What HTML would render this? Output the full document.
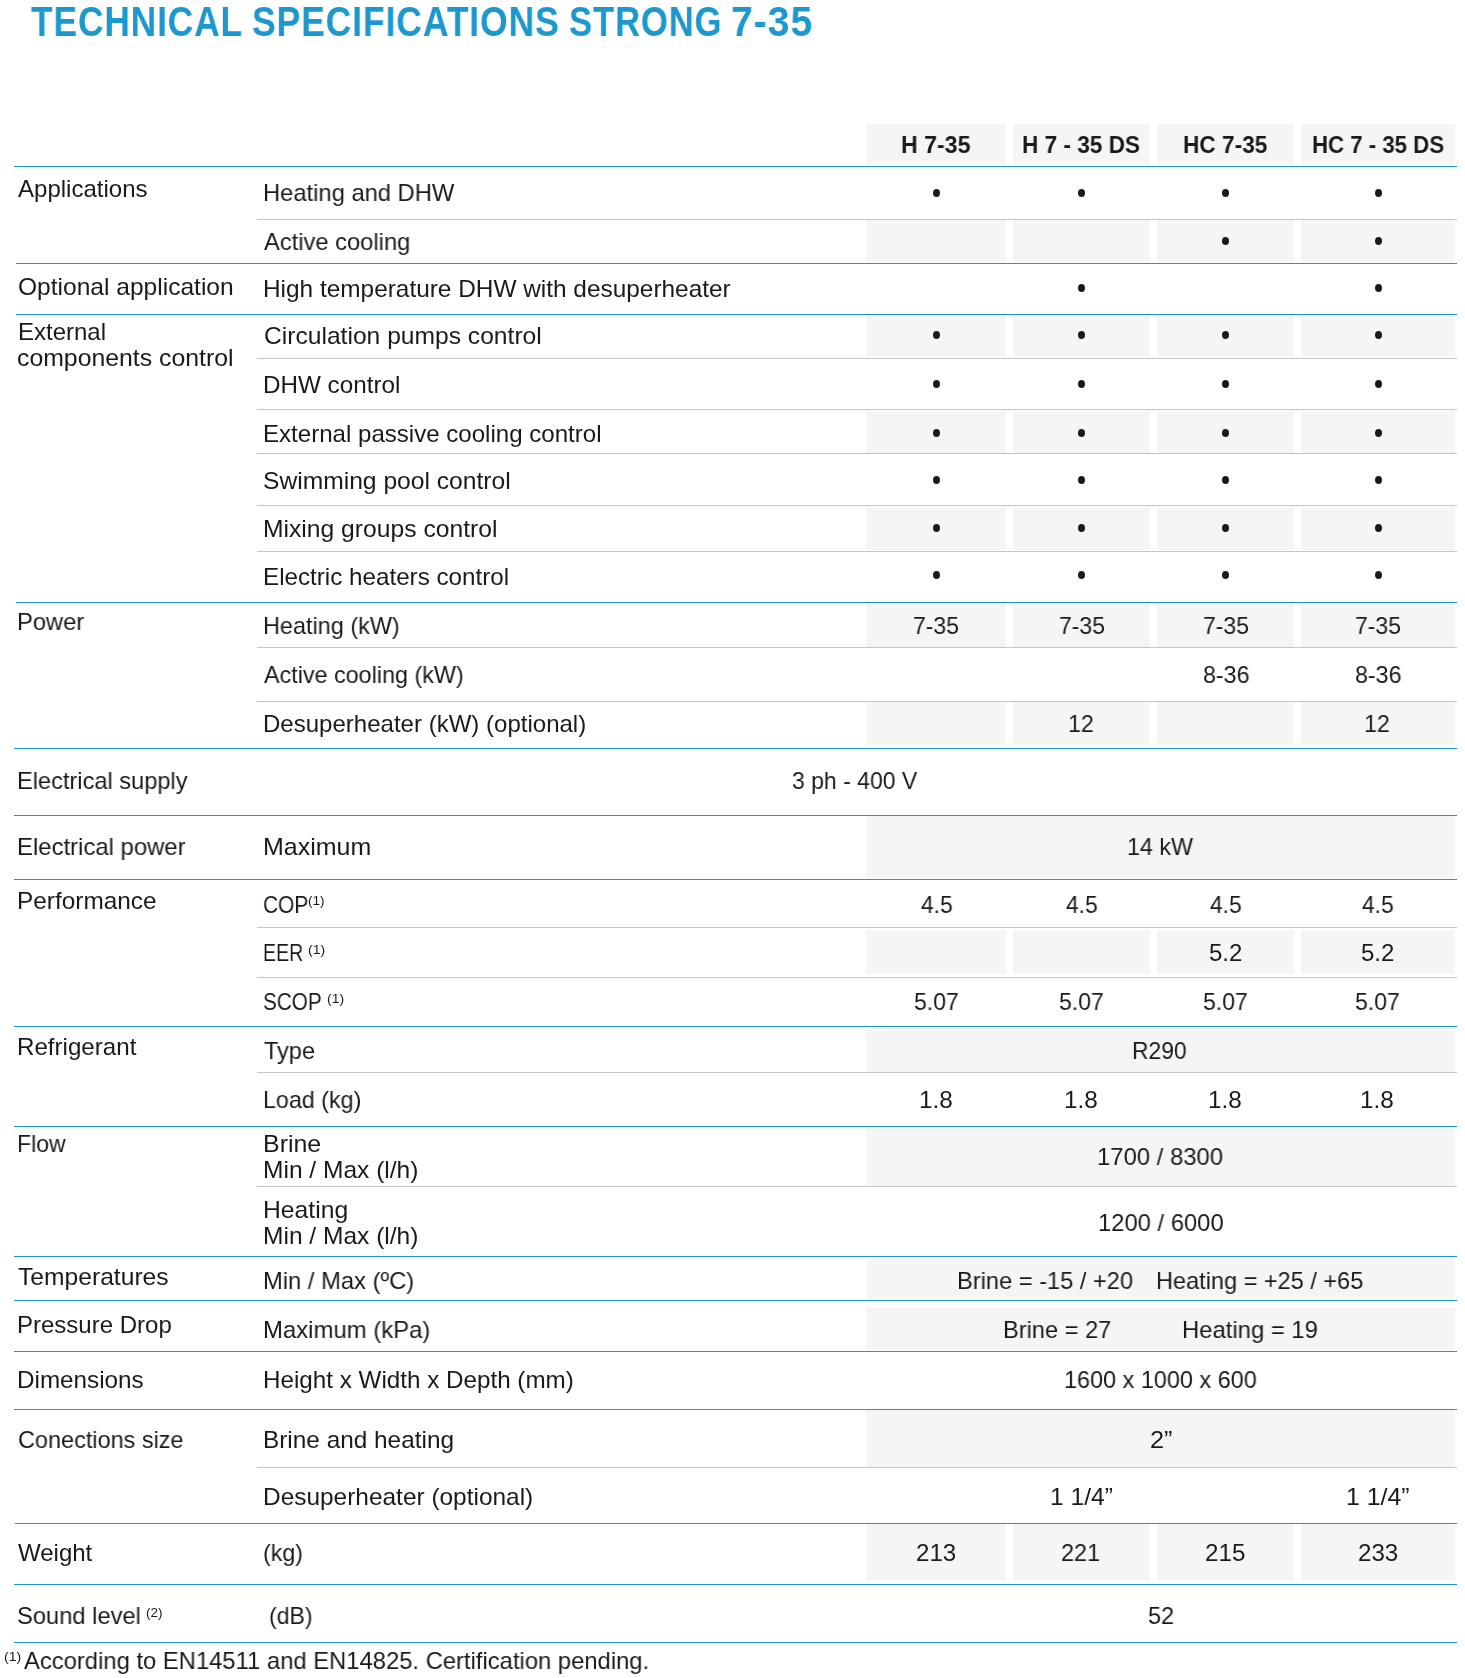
<!DOCTYPE html>
<html><head><meta charset="utf-8"><title>Technical specifications Strong 7-35</title>
<style>
html,body{margin:0;padding:0;background:#fff;}
body{width:1465px;height:1678px;position:relative;overflow:hidden;}
.r{position:absolute;}
.t,.s{position:absolute;font-family:"Liberation Sans",sans-serif;font-size:24px;line-height:26px;color:#1a1a1a;white-space:nowrap;transform-origin:0 0;will-change:transform;}
.s{font-size:12px;line-height:14px;}
.b{font-weight:bold;}
.d{position:absolute;width:7px;height:8px;border-radius:50%;background:#1a1a1a;}
.title{position:absolute;top:0px;font-family:"Liberation Sans",sans-serif;font-weight:bold;font-size:42px;line-height:44px;letter-spacing:1px;color:#1c98cf;white-space:nowrap;transform-origin:0 0;will-change:transform;}
</style></head><body>
<div class="r" style="left:866px;top:124px;width:140px;height:41px;background:#f5f5f5"></div>
<div class="r" style="left:1013px;top:124px;width:137px;height:41px;background:#f5f5f5"></div>
<div class="r" style="left:1157px;top:124px;width:137px;height:41px;background:#f5f5f5"></div>
<div class="r" style="left:1301px;top:124px;width:154px;height:41px;background:#f5f5f5"></div>
<div class="r" style="left:866px;top:220px;width:140px;height:42px;background:#f5f5f5"></div>
<div class="r" style="left:1013px;top:220px;width:137px;height:42px;background:#f5f5f5"></div>
<div class="r" style="left:1157px;top:220px;width:137px;height:42px;background:#f5f5f5"></div>
<div class="r" style="left:1301px;top:220px;width:154px;height:42px;background:#f5f5f5"></div>
<div class="r" style="left:866px;top:316px;width:140px;height:40px;background:#f5f5f5"></div>
<div class="r" style="left:1013px;top:316px;width:137px;height:40px;background:#f5f5f5"></div>
<div class="r" style="left:1157px;top:316px;width:137px;height:40px;background:#f5f5f5"></div>
<div class="r" style="left:1301px;top:316px;width:154px;height:40px;background:#f5f5f5"></div>
<div class="r" style="left:866px;top:411px;width:140px;height:42px;background:#f5f5f5"></div>
<div class="r" style="left:1013px;top:411px;width:137px;height:42px;background:#f5f5f5"></div>
<div class="r" style="left:1157px;top:411px;width:137px;height:42px;background:#f5f5f5"></div>
<div class="r" style="left:1301px;top:411px;width:154px;height:42px;background:#f5f5f5"></div>
<div class="r" style="left:866px;top:507px;width:140px;height:43px;background:#f5f5f5"></div>
<div class="r" style="left:1013px;top:507px;width:137px;height:43px;background:#f5f5f5"></div>
<div class="r" style="left:1157px;top:507px;width:137px;height:43px;background:#f5f5f5"></div>
<div class="r" style="left:1301px;top:507px;width:154px;height:43px;background:#f5f5f5"></div>
<div class="r" style="left:866px;top:604px;width:140px;height:43px;background:#f5f5f5"></div>
<div class="r" style="left:1013px;top:604px;width:137px;height:43px;background:#f5f5f5"></div>
<div class="r" style="left:1157px;top:604px;width:137px;height:43px;background:#f5f5f5"></div>
<div class="r" style="left:1301px;top:604px;width:154px;height:43px;background:#f5f5f5"></div>
<div class="r" style="left:866px;top:702px;width:140px;height:43px;background:#f5f5f5"></div>
<div class="r" style="left:1013px;top:702px;width:137px;height:43px;background:#f5f5f5"></div>
<div class="r" style="left:1157px;top:702px;width:137px;height:43px;background:#f5f5f5"></div>
<div class="r" style="left:1301px;top:702px;width:154px;height:43px;background:#f5f5f5"></div>
<div class="r" style="left:866px;top:816px;width:589px;height:62px;background:#f5f5f5"></div>
<div class="r" style="left:866px;top:930px;width:140px;height:44px;background:#f5f5f5"></div>
<div class="r" style="left:1013px;top:930px;width:137px;height:44px;background:#f5f5f5"></div>
<div class="r" style="left:1157px;top:930px;width:137px;height:44px;background:#f5f5f5"></div>
<div class="r" style="left:1301px;top:930px;width:154px;height:44px;background:#f5f5f5"></div>
<div class="r" style="left:866px;top:1028px;width:589px;height:44px;background:#f5f5f5"></div>
<div class="r" style="left:866px;top:1127px;width:589px;height:59px;background:#f5f5f5"></div>
<div class="r" style="left:866px;top:1259px;width:589px;height:40px;background:#f5f5f5"></div>
<div class="r" style="left:866px;top:1308px;width:589px;height:42px;background:#f5f5f5"></div>
<div class="r" style="left:866px;top:1410px;width:589px;height:57px;background:#f5f5f5"></div>
<div class="r" style="left:866px;top:1524px;width:140px;height:56px;background:#f5f5f5"></div>
<div class="r" style="left:1013px;top:1524px;width:137px;height:56px;background:#f5f5f5"></div>
<div class="r" style="left:1157px;top:1524px;width:137px;height:56px;background:#f5f5f5"></div>
<div class="r" style="left:1301px;top:1524px;width:154px;height:56px;background:#f5f5f5"></div>
<div class="r" style="left:14px;top:166px;width:1443px;height:1px;background:#1c98cf"></div>
<div class="r" style="left:16px;top:263px;width:1441px;height:1px;background:#1c98cf"></div>
<div class="r" style="left:16px;top:314px;width:1441px;height:1px;background:#1c98cf"></div>
<div class="r" style="left:16px;top:602px;width:1441px;height:1px;background:#1c98cf"></div>
<div class="r" style="left:14px;top:748px;width:1443px;height:1px;background:#1c98cf"></div>
<div class="r" style="left:14px;top:815px;width:1443px;height:1px;background:#1c98cf"></div>
<div class="r" style="left:14px;top:879px;width:1443px;height:1px;background:#1c98cf"></div>
<div class="r" style="left:14px;top:1026px;width:1443px;height:1px;background:#1c98cf"></div>
<div class="r" style="left:14px;top:1126px;width:1443px;height:1px;background:#1c98cf"></div>
<div class="r" style="left:14px;top:1256px;width:1443px;height:1px;background:#1c98cf"></div>
<div class="r" style="left:14px;top:1300px;width:1443px;height:1px;background:#1c98cf"></div>
<div class="r" style="left:14px;top:1351px;width:1443px;height:1px;background:#1c98cf"></div>
<div class="r" style="left:14px;top:1409px;width:1443px;height:1px;background:#1c98cf"></div>
<div class="r" style="left:15px;top:1523px;width:1442px;height:1px;background:#1c98cf"></div>
<div class="r" style="left:14px;top:1584px;width:1443px;height:1px;background:#1c98cf"></div>
<div class="r" style="left:14px;top:1642px;width:1443px;height:1px;background:#1c98cf"></div>
<div class="r" style="left:257px;top:219px;width:1200px;height:1px;background:#c6c6c6"></div>
<div class="r" style="left:257px;top:358px;width:1200px;height:1px;background:#c6c6c6"></div>
<div class="r" style="left:257px;top:409px;width:1200px;height:1px;background:#c6c6c6"></div>
<div class="r" style="left:257px;top:453px;width:1200px;height:1px;background:#c6c6c6"></div>
<div class="r" style="left:257px;top:505px;width:1200px;height:1px;background:#c6c6c6"></div>
<div class="r" style="left:257px;top:551px;width:1200px;height:1px;background:#c6c6c6"></div>
<div class="r" style="left:257px;top:647px;width:1200px;height:1px;background:#c6c6c6"></div>
<div class="r" style="left:257px;top:701px;width:1200px;height:1px;background:#c6c6c6"></div>
<div class="r" style="left:257px;top:927px;width:1200px;height:1px;background:#c6c6c6"></div>
<div class="r" style="left:257px;top:977px;width:1200px;height:1px;background:#c6c6c6"></div>
<div class="r" style="left:257px;top:1072px;width:1200px;height:1px;background:#c6c6c6"></div>
<div class="r" style="left:257px;top:1186px;width:1200px;height:1px;background:#c6c6c6"></div>
<div class="r" style="left:257px;top:1467px;width:1200px;height:1px;background:#c6c6c6"></div>
<div class="t b" style="left:900.67px;top:132px;transform:scaleX(0.9643)">H 7-35</div>
<div class="t b" style="left:1021.92px;top:132px;transform:scaleX(0.9415)">H 7 - 35 DS</div>
<div class="t b" style="left:1182.51px;top:132px;transform:scaleX(0.9437)">HC 7-35</div>
<div class="t b" style="left:1311.55px;top:132px;transform:scaleX(0.9257)">HC 7 - 35 DS</div>
<div class="t" style="left:18.20px;top:176px;transform:scaleX(1.0008)">Applications</div>
<div class="t" style="left:17.98px;top:274px;transform:scaleX(1.0230)">Optional application</div>
<div class="t" style="left:17.51px;top:319px;transform:scaleX(0.9965)">External</div>
<div class="t" style="left:17.47px;top:345px;transform:scaleX(1.0338)">components control</div>
<div class="t" style="left:17.22px;top:609px;transform:scaleX(0.9879)">Power</div>
<div class="t" style="left:17.23px;top:768px;transform:scaleX(0.9831)">Electrical supply</div>
<div class="t" style="left:17.21px;top:834px;transform:scaleX(0.9952)">Electrical power</div>
<div class="t" style="left:17.17px;top:888px;transform:scaleX(1.0157)">Performance</div>
<div class="t" style="left:17.19px;top:1034px;transform:scaleX(1.0051)">Refrigerant</div>
<div class="t" style="left:17.28px;top:1131px;transform:scaleX(0.9612)">Flow</div>
<div class="t" style="left:18.00px;top:1264px;transform:scaleX(1.0267)">Temperatures</div>
<div class="t" style="left:17.21px;top:1312px;transform:scaleX(0.9974)">Pressure Drop</div>
<div class="t" style="left:17.18px;top:1367px;transform:scaleX(1.0106)">Dimensions</div>
<div class="t" style="left:17.72px;top:1427px;transform:scaleX(0.9772)">Conections size</div>
<div class="t" style="left:18.30px;top:1540px;transform:scaleX(0.9973)">Weight</div>
<div class="t" style="left:17.31px;top:1603px;transform:scaleX(0.9878)">Sound level</div>
<div class="t" style="left:262.62px;top:180px;transform:scaleX(0.9890)">Heating and DHW</div>
<div class="t" style="left:263.50px;top:229px;transform:scaleX(0.9878)">Active cooling</div>
<div class="t" style="left:262.57px;top:276px;transform:scaleX(1.0162)">High temperature DHW with desuperheater</div>
<div class="t" style="left:263.57px;top:323px;transform:scaleX(1.0257)">Circulation pumps control</div>
<div class="t" style="left:262.58px;top:372px;transform:scaleX(1.0098)">DHW control</div>
<div class="t" style="left:262.59px;top:421px;transform:scaleX(1.0030)">External passive cooling control</div>
<div class="t" style="left:262.67px;top:468px;transform:scaleX(1.0259)">Swimming pool control</div>
<div class="t" style="left:262.54px;top:516px;transform:scaleX(1.0276)">Mixing groups control</div>
<div class="t" style="left:262.58px;top:564px;transform:scaleX(1.0083)">Electric heaters control</div>
<div class="t" style="left:262.65px;top:613px;transform:scaleX(0.9759)">Heating (kW)</div>
<div class="t" style="left:263.70px;top:662px;transform:scaleX(0.9721)">Active cooling (kW)</div>
<div class="t" style="left:262.60px;top:711px;transform:scaleX(1.0013)">Desuperheater (kW) (optional)</div>
<div class="t" style="left:262.52px;top:834px;transform:scaleX(1.0406)">Maximum</div>
<div class="t" style="left:263.43px;top:892px;transform:scaleX(0.8700)">COP</div>
<div class="t" style="left:263.47px;top:940px;transform:scaleX(0.8152)">EER</div>
<div class="t" style="left:263.14px;top:989px;transform:scaleX(0.8636)">SCOP</div>
<div class="t" style="left:263.70px;top:1038px;transform:scaleX(0.9804)">Type</div>
<div class="t" style="left:262.66px;top:1087px;transform:scaleX(0.9694)">Load (kg)</div>
<div class="t" style="left:262.52px;top:1131px;transform:scaleX(1.0396)">Brine</div>
<div class="t" style="left:262.56px;top:1157px;transform:scaleX(1.0221)">Min / Max (l/h)</div>
<div class="t" style="left:262.54px;top:1197px;transform:scaleX(1.0291)">Heating</div>
<div class="t" style="left:262.56px;top:1223px;transform:scaleX(1.0221)">Min / Max (l/h)</div>
<div class="t" style="left:262.62px;top:1268px;transform:scaleX(0.9893)">Min / Max (ºC)</div>
<div class="t" style="left:262.61px;top:1317px;transform:scaleX(0.9958)">Maximum (kPa)</div>
<div class="t" style="left:262.58px;top:1367px;transform:scaleX(1.0089)">Height x Width x Depth (mm)</div>
<div class="t" style="left:262.57px;top:1427px;transform:scaleX(1.0151)">Brine and heating</div>
<div class="t" style="left:262.56px;top:1484px;transform:scaleX(1.0179)">Desuperheater (optional)</div>
<div class="t" style="left:262.73px;top:1540px;transform:scaleX(0.9667)">(kg)</div>
<div class="t" style="left:268.94px;top:1603px;transform:scaleX(0.9628)">(dB)</div>
<div class="t" style="left:913.44px;top:613px;transform:scaleX(0.9565)">7-35</div>
<div class="t" style="left:1058.69px;top:613px;transform:scaleX(0.9565)">7-35</div>
<div class="t" style="left:1202.99px;top:613px;transform:scaleX(0.9565)">7-35</div>
<div class="t" style="left:1354.94px;top:613px;transform:scaleX(0.9565)">7-35</div>
<div class="t" style="left:1202.73px;top:662px;transform:scaleX(0.9674)">8-36</div>
<div class="t" style="left:1354.68px;top:662px;transform:scaleX(0.9674)">8-36</div>
<div class="t" style="left:1068.06px;top:711px;transform:scaleX(0.9708)">12</div>
<div class="t" style="left:1364.31px;top:711px;transform:scaleX(0.9708)">12</div>
<div class="t" style="left:792.04px;top:768px;transform:scaleX(0.9577)">3 ph - 400 V</div>
<div class="t" style="left:1126.85px;top:834px;transform:scaleX(0.9727)">14 kW</div>
<div class="t" style="left:920.70px;top:892px;transform:scaleX(0.9515)">4.5</div>
<div class="t" style="left:1065.95px;top:892px;transform:scaleX(0.9515)">4.5</div>
<div class="t" style="left:1210.25px;top:892px;transform:scaleX(0.9515)">4.5</div>
<div class="t" style="left:1362.20px;top:892px;transform:scaleX(0.9515)">4.5</div>
<div class="t" style="left:1209.45px;top:940px;transform:scaleX(1.0000)">5.2</div>
<div class="t" style="left:1361.40px;top:940px;transform:scaleX(1.0000)">5.2</div>
<div class="t" style="left:913.84px;top:989px;transform:scaleX(0.9600)">5.07</div>
<div class="t" style="left:1059.09px;top:989px;transform:scaleX(0.9600)">5.07</div>
<div class="t" style="left:1203.39px;top:989px;transform:scaleX(0.9600)">5.07</div>
<div class="t" style="left:1355.34px;top:989px;transform:scaleX(0.9600)">5.07</div>
<div class="t" style="left:1132.29px;top:1038px;transform:scaleX(0.9527)">R290</div>
<div class="t" style="left:918.67px;top:1087px;transform:scaleX(1.0129)">1.8</div>
<div class="t" style="left:1063.92px;top:1087px;transform:scaleX(1.0129)">1.8</div>
<div class="t" style="left:1208.22px;top:1087px;transform:scaleX(1.0129)">1.8</div>
<div class="t" style="left:1360.17px;top:1087px;transform:scaleX(1.0129)">1.8</div>
<div class="t" style="left:1097.31px;top:1144px;transform:scaleX(0.9944)">1700 / 8300</div>
<div class="t" style="left:1097.72px;top:1210px;transform:scaleX(0.9911)">1200 / 6000</div>
<div class="t" style="left:957.13px;top:1268px;transform:scaleX(0.9847)">Brine = -15 / +20</div>
<div class="t" style="left:1156.24px;top:1268px;transform:scaleX(0.9799)">Heating = +25 / +65</div>
<div class="t" style="left:1003.43px;top:1317px;transform:scaleX(0.9832)">Brine = 27</div>
<div class="t" style="left:1182.41px;top:1317px;transform:scaleX(0.9933)">Heating = 19</div>
<div class="t" style="left:1064.25px;top:1367px;transform:scaleX(0.9759)">1600 x 1000 x 600</div>
<div class="t" style="left:1149.54px;top:1427px;transform:scaleX(1.0550)">2”</div>
<div class="t" style="left:1049.95px;top:1484px;transform:scaleX(1.0237)">1 1/4”</div>
<div class="t" style="left:1346.23px;top:1484px;transform:scaleX(1.0356)">1 1/4”</div>
<div class="t" style="left:916.09px;top:1540px;transform:scaleX(1.0053)">213</div>
<div class="t" style="left:1060.62px;top:1540px;transform:scaleX(0.9763)">221</div>
<div class="t" style="left:1204.99px;top:1540px;transform:scaleX(1.0079)">215</div>
<div class="t" style="left:1357.59px;top:1540px;transform:scaleX(1.0053)">233</div>
<div class="t" style="left:1147.72px;top:1603px;transform:scaleX(0.9800)">52</div>
<div class="t" style="left:23.90px;top:1648px;transform:scaleX(0.9913)">According to EN14511 and EN14825. Certification pending.</div>
<div class="title" style="left:31.20px;transform:scaleX(0.8424)">TECHNICAL</div>
<div class="title" style="left:252.45px;transform:scaleX(0.8469)">SPECIFICATIONS</div>
<div class="title" style="left:569.37px;transform:scaleX(0.8260)">STRONG</div>
<div class="title" style="left:731.13px;transform:scaleX(0.9333)">7-35</div>
<div class="s" style="left:308.47px;top:893.8px;transform:scaleX(1.1308)">(1)</div>
<div class="s" style="left:307.83px;top:942.6px;transform:scaleX(1.1692)">(1)</div>
<div class="s" style="left:326.84px;top:991.5px;transform:scaleX(1.1615)">(1)</div>
<div class="s" style="left:146.08px;top:1606.1px;transform:scaleX(1.1231)">(2)</div>
<div class="s" style="left:3.63px;top:1649.8px;transform:scaleX(1.1692)">(1)</div>
<div class="d" style="left:932.5px;top:189px"></div>
<div class="d" style="left:1078.0px;top:189px"></div>
<div class="d" style="left:1222.0px;top:189px"></div>
<div class="d" style="left:1374.5px;top:189px"></div>
<div class="d" style="left:1222.0px;top:237px"></div>
<div class="d" style="left:1374.5px;top:237px"></div>
<div class="d" style="left:1078.0px;top:284px"></div>
<div class="d" style="left:1374.5px;top:284px"></div>
<div class="d" style="left:932.5px;top:330.5px"></div>
<div class="d" style="left:1078.0px;top:330.5px"></div>
<div class="d" style="left:1222.0px;top:330.5px"></div>
<div class="d" style="left:1374.5px;top:330.5px"></div>
<div class="d" style="left:932.5px;top:379.5px"></div>
<div class="d" style="left:1078.0px;top:379.5px"></div>
<div class="d" style="left:1222.0px;top:379.5px"></div>
<div class="d" style="left:1374.5px;top:379.5px"></div>
<div class="d" style="left:932.5px;top:428.7px"></div>
<div class="d" style="left:1078.0px;top:428.7px"></div>
<div class="d" style="left:1222.0px;top:428.7px"></div>
<div class="d" style="left:1374.5px;top:428.7px"></div>
<div class="d" style="left:932.5px;top:475.7px"></div>
<div class="d" style="left:1078.0px;top:475.7px"></div>
<div class="d" style="left:1222.0px;top:475.7px"></div>
<div class="d" style="left:1374.5px;top:475.7px"></div>
<div class="d" style="left:932.5px;top:524.4px"></div>
<div class="d" style="left:1078.0px;top:524.4px"></div>
<div class="d" style="left:1222.0px;top:524.4px"></div>
<div class="d" style="left:1374.5px;top:524.4px"></div>
<div class="d" style="left:932.5px;top:571.4px"></div>
<div class="d" style="left:1078.0px;top:571.4px"></div>
<div class="d" style="left:1222.0px;top:571.4px"></div>
<div class="d" style="left:1374.5px;top:571.4px"></div>
</body></html>
